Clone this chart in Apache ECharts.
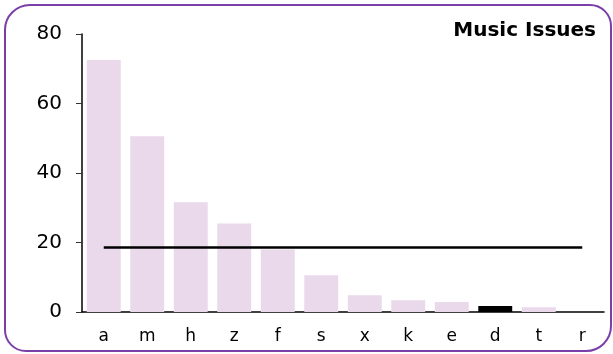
<!DOCTYPE html>
<html>
<head>
<meta charset="utf-8">
<script src="https://cdn.jsdelivr.net/npm/echarts@6/dist/echarts.min.js"></script>
<style>
  html, body { margin: 0; padding: 0; background: #ffffff; }
  #frame {
    position: absolute; left: 4px; top: 4px; width: 608px; height: 348px;
    box-sizing: border-box; border: 2px solid #7b3fa8; border-radius: 26px 22px 26px 22px;
  }
  #chart { position: absolute; left: 0; top: 0; width: 613px; height: 354px; }
</style>
</head>
<body>
<div id="frame"></div>
<div id="chart"></div>
<script>
// Issue counts per category
const categories = ['a', 'm', 'h', 'z', 'f', 's', 'x', 'k', 'e', 'd', 't', 'r'];
const issueCounts = [72.5, 50.6, 31.6, 25.5, 18.0, 10.6, 4.8, 3.4, 2.9, 1.7, 1.35, 0];
const highlighted = ['d'];
const averageLevel = 18.5;
const yTicks = { min: 0, max: 80, interval: 20 };

const fontFamily = '"DejaVu Sans", Verdana, sans-serif';

const chart = echarts.init(document.getElementById('chart'), null, { renderer: 'canvas' });

chart.setOption({
  animation: false,
  backgroundColor: 'transparent',
  title: {
    text: 'Music Issues',
    right: 17,
    top: 21,
    padding: 0,
    textStyle: { fontFamily, fontSize: 20, fontWeight: 'bold', color: '#000' }
  },
  grid: { left: 82, right: 9, top: 34, bottom: 42, containLabel: false },
  xAxis: {
    type: 'category',
    data: categories,
    axisLine: { show: true, lineStyle: { color: '#000', width: 1.5 } },
    axisTick: { show: false },
    axisLabel: { margin: 16, fontFamily, fontSize: 17, color: '#000' }
  },
  yAxis: {
    type: 'value',
    min: yTicks.min,
    max: yTicks.max,
    interval: yTicks.interval,
    splitLine: { show: false },
    axisLine: { show: true, lineStyle: { color: '#000', width: 1.5 } },
    axisTick: { show: true, length: 6, lineStyle: { color: '#333', width: 1 } },
    axisLabel: { margin: 20, fontFamily, fontSize: 20, color: '#000' }
  },
  series: [{
    type: 'bar',
    barCategoryGap: '22%',
    data: issueCounts.map((v, i) => ({
      value: v,
      itemStyle: { color: highlighted.includes(categories[i]) ? '#000000' : '#ead8eb' }
    })),
    markLine: {
      silent: true,
      symbol: 'none',
      label: { show: false },
      lineStyle: { color: '#000', width: 2.5, type: 'solid' },
      data: [[
        { coord: [categories[0], averageLevel] },
        { coord: [categories[categories.length - 1], averageLevel] }
      ]]
    }
  }]
});
</script>
</body>
</html>
